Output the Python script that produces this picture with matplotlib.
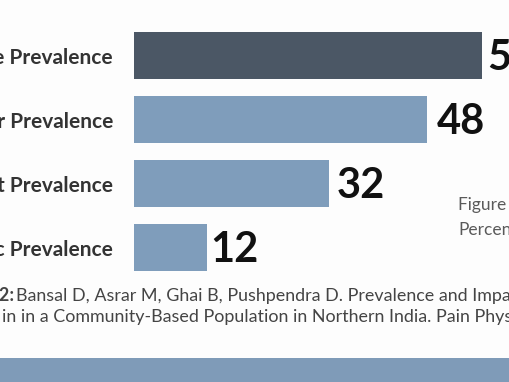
import matplotlib
matplotlib.use("Agg")
import matplotlib.pyplot as plt
from matplotlib.patches import Rectangle

# data
categories = ["Lifetime Prevalence", "Year Prevalence", "Point Prevalence", "Chronic Prevalence"]
values = [57, 48, 32, 12]
value_labels = ["57", "48", "32", "12"]

W, H = 510, 382
DPI = 100
PX_PER_UNIT = 6.1  # bar length in pixels per percent
PT = 72 / DPI  # points per pixel

plt.rcParams["font.family"] = ["Lato", "DejaVu Sans"]

fig = plt.figure(figsize=(W / DPI, H / DPI), dpi=DPI)
fig.patch.set_facecolor("#fdfdfd")

# bar axes placed in pixel terms
left_px, top_px, bottom_px = 134, 23.5, 279.5
ax = fig.add_axes([left_px / W, 1 - bottom_px / H, (W - left_px) / W, (bottom_px - top_px) / H])
ax.set_xlim(0, (W - left_px) / PX_PER_UNIT)
ax.set_ylim(len(values) - 0.5, -0.5)
ax.axis("off")

colors = ["#4b5765"] + ["#7f9dbb"] * (len(values) - 1)
ypos = list(range(len(values)))
ax.barh(ypos, values, height=47 / 64, color=colors, edgecolor="none")

# value labels just right of each bar
gaps = [6, 10, 7, 3]
for y, v, lab, g in zip(ypos, values, value_labels, gaps):
    ax.annotate(lab, xy=(v, y), xytext=(g * PT, -3 * PT), textcoords="offset points",
                ha="left", va="center", fontsize=30, fontweight="bold", color="#111111")

# category labels, right aligned to the left of the bars (clipped by the figure edge)
for y, cat in zip(ypos, categories):
    ax.annotate(cat, xy=(0, y), xytext=(-21 * PT, -3 * PT), textcoords="offset points",
                ha="right", va="center", fontsize=15, fontweight="bold", color="#333333",
                annotation_clip=False)

# side note
note_kw = dict(fontsize=12.5, fontweight="normal", color="#5a5a5a")
fig.text(458 / W, 1 - 210 / H, "Figure 2.", **note_kw)
fig.text(458 / W, 1 - 235 / H, "Percentage", **note_kw)

# source caption
cap_kw = dict(fontsize=12.9, color="#444444")
fig.text(14 / W, 1 - 301 / H, "Figure 2:", ha="right", fontweight="bold", **cap_kw)
fig.text(16 / W, 1 - 301 / H,
         "Bansal D, Asrar M, Ghai B, Pushpendra D. Prevalence and Impact of Chronic",
         fontweight="normal", **cap_kw)
fig.text(2 / W, 1 - 322 / H,
         "in in a Community-Based Population in Northern India. Pain Physician",
         fontweight="normal", **cap_kw)

# footer band
fig.patches.append(Rectangle((0, 0), 1, 24 / H, transform=fig.transFigure,
                             facecolor="#7f9bb8", edgecolor="none"))

fig.savefig("out.png", dpi=DPI, facecolor=fig.get_facecolor())
